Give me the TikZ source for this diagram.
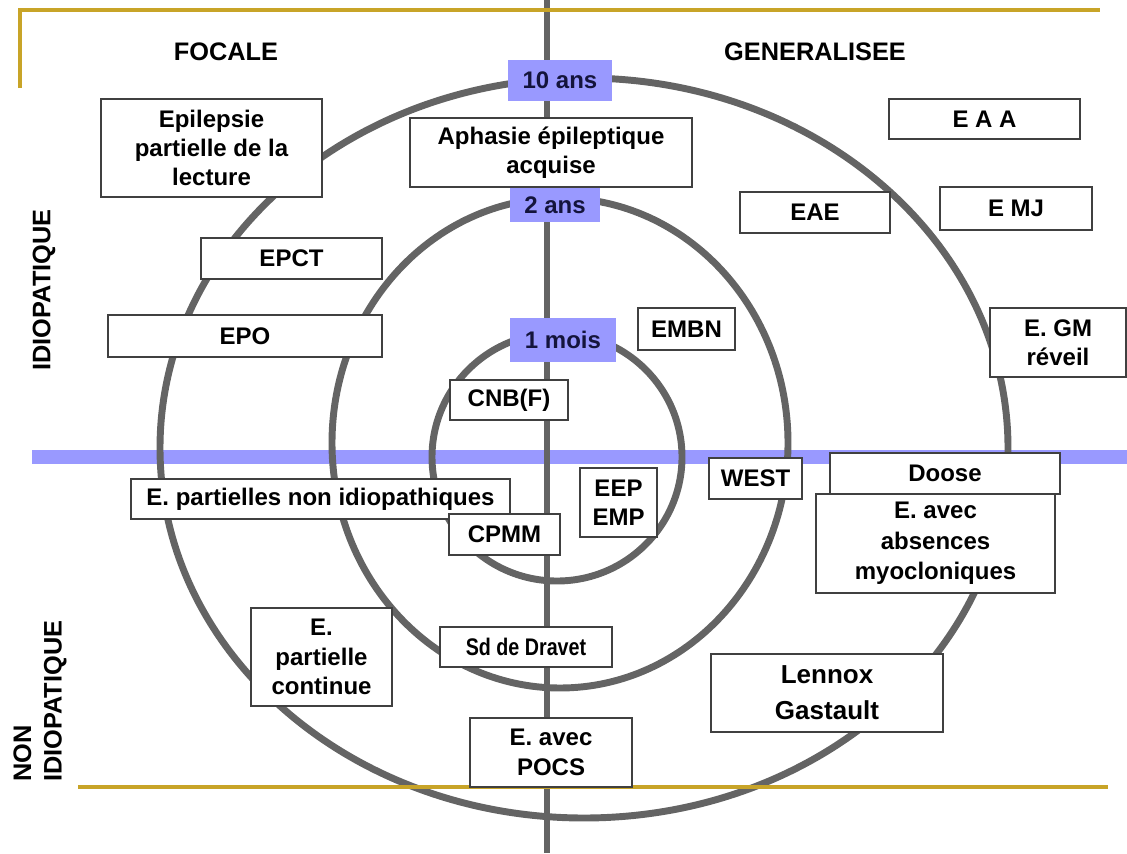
\documentclass[tikz,border=0pt]{standalone}
\usepackage{fontspec}
\setmainfont{Liberation Sans}
\newfontfamily\condensed[FakeStretch=0.82]{Liberation Sans}
\definecolor{ringgray}{RGB}{100,100,100}
\definecolor{bandblue}{RGB}{153,153,255}
\definecolor{rulegold}{RGB}{200,164,40}
\definecolor{agetext}{RGB}{20,20,60}
\tikzset{
  ring/.style={draw=ringgray,line width=5.2pt},
  rule/.style={draw=rulegold,line width=2.4pt},
  box/.style={draw=black!75,line width=0.9pt,fill=white,inner sep=0pt,align=center,
    font=\bfseries\fontsize{18}{22}\selectfont},
  sz/.style 2 args={minimum width=#1*0.75pt,minimum height=#2*0.75pt},
  age/.style={fill=bandblue,inner sep=0pt,text=agetext,font=\bfseries\fontsize{18}{22}\selectfont},
  head/.style={inner sep=0pt,font=\bfseries\fontsize{19}{23}\selectfont}
}
\begin{document}
\begin{tikzpicture}[x=0.75pt,y=-0.75pt]
  \useasboundingbox (0,0) rectangle (1127,853);
  % band, rings and axis
  \fill[bandblue] (32,450) rectangle (1127,464);
  \draw[ring] (584,448) ellipse [x radius=424,y radius=370];
  \draw[ring] (560,443) ellipse [x radius=228,y radius=245];
  \draw[ring] (557,457) ellipse [x radius=125,y radius=124];
  \draw[draw=ringgray,line width=4.6pt] (547,0) -- (547,853);
  \draw[rule] (20,88) -- (20,10) -- (1100,10);
  \draw[rule] (78,787) -- (1108,787);
  % ages
  \path
    (560,80.5) node[age,sz={104}{41}] (ans10) {10 ans}
    (555,205) node[age,sz={90}{34}] (ans2) {2 ans}
    (563,340) node[age,sz={106}{44}] (mois1) {1 mois};
  % headings
  \path
    (226,52) node[head] (focale) {FOCALE}
    (815,52) node[head] (gener) {GENERALISEE}
    (44,290) node[head,rotate=90] (idio) {IDIOPATIQUE}
    (40,782) node[head,rotate=90,anchor=west,align=left] (nonidio) {NON\\IDIOPATIQUE};
  % syndromes
  \path
    (211.5,148) node[box,sz={221}{98}] (lecture) {Epilepsie\\partielle de la\\lecture}
    (551,152.5) node[box,sz={282}{69}] (aphasie) {Aphasie épileptique\\acquise}
    (984.5,119) node[box,sz={191}{40}] (eaa) {E A A}
    (815,212.5) node[box,sz={150}{41}] (eae) {EAE}
    (1016,208.5) node[box,sz={152}{43}] (emj) {E MJ}
    (291.5,258.5) node[box,sz={181}{41}] (epct) {EPCT}
    (245,336) node[box,sz={274}{42}] (epo) {EPO}
    (686.5,329) node[box,sz={97}{42}] (embn) {EMBN}
    (1058,342.5) node[box,sz={136}{69}] (gmr) {E. GM\\réveil}
    (509,400) node[box,sz={118}{40}] (cnb) {CNB(F)}
    (320.5,499) node[box,sz={379}{40}] (partni) {E. partielles non idiopathiques}
    (618.5,502.5) node[box,sz={77}{69}] (eep) {EEP\\EMP}
    (755.5,478.5) node[box,sz={93}{41}] (west) {WEST}
    (945,473.5) node[box,sz={230}{41}] (doose) {Doose}
    (504.5,534.5) node[box,sz={111}{41}] (cpmm) {CPMM}
    (935.5,543.5) node[box,sz={239}{99},font=\bfseries\fontsize{18}{23}\selectfont] (absmyo) {E. avec\\absences\\myocloniques}
    (526,647) node[box,sz={172}{40},font=\condensed\bfseries\fontsize{18}{22}\selectfont] (dravet) {Sd de Dravet}
    (321.5,657) node[box,sz={141}{98}] (continue) {E.\\partielle\\continue}
    (827,693) node[box,sz={232}{78},font=\bfseries\fontsize{19.5}{27}\selectfont] (lennox) {Lennox\\Gastault}
    (551,752.5) node[box,sz={162}{69}] (pocs) {E. avec\\POCS};
\end{tikzpicture}
\end{document}
